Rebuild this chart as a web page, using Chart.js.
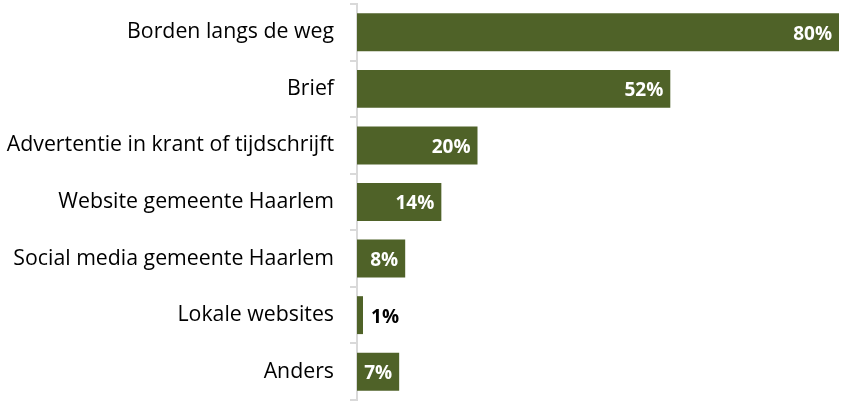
<!DOCTYPE html>
<html lang="nl">
<head>
    <meta charset="UTF-8">
    <title>Bekendheid</title>
    <script src="https://cdn.jsdelivr.net/npm/chart.js"></script>
    <style>
        html, body { margin: 0; padding: 0; background: #fff; }
        #wrap { width: 843px; height: 403px; }
    </style>
</head>
<body>
    <div id="wrap"><canvas id="barChart"></canvas></div>
    <script>
        const categories = [
            'Borden langs de weg',
            'Brief',
            'Advertentie in krant of tijdschrijft',
            'Website gemeente Haarlem',
            'Social media gemeente Haarlem',
            'Lokale websites',
            'Anders'
        ];
        const percentages = [80, 52, 20, 14, 8, 1, 7];

        const barColor = '#4F6228';
        const fontFamily = '"Open Sans", Lato, sans-serif';

        // draw value labels: inside the bar end in white, or just outside in black when the bar is too short
        const valueLabels = {
            id: 'valueLabels',
            afterDatasetsDraw(chart) {
                const ctx = chart.ctx;
                const meta = chart.getDatasetMeta(0);
                ctx.save();
                ctx.font = 'bold 19px ' + fontFamily;
                ctx.textBaseline = 'middle';
                meta.data.forEach((bar, i) => {
                    const text = percentages[i] + '%';
                    const w = ctx.measureText(text).width;
                    const barWidth = bar.x - bar.base;
                    if (barWidth > w + 10) {
                        ctx.fillStyle = '#ffffff';
                        ctx.textAlign = 'right';
                        ctx.fillText(text, bar.x - 7, bar.y + 2);
                    } else {
                        ctx.fillStyle = '#000000';
                        ctx.textAlign = 'left';
                        ctx.fillText(text, bar.x + 8, bar.y + 2);
                    }
                });
                ctx.restore();
            }
        };

        const ctx = document.getElementById('barChart').getContext('2d');
        const barChart = new Chart(ctx, {
            type: 'bar',
            data: {
                labels: categories,
                datasets: [{
                    data: percentages,
                    backgroundColor: barColor,
                    borderWidth: 0,
                    categoryPercentage: 0.67,
                    barPercentage: 1.0
                }]
            },
            options: {
                indexAxis: 'y',
                responsive: true,
                maintainAspectRatio: false,
                animation: false,
                layout: {
                    padding: { top: 4, bottom: 3, right: 4, left: 0 }
                },
                scales: {
                    x: {
                        display: false,
                        min: 0,
                        max: 80
                    },
                    y: {
                        afterFit(scale) {
                            // labels sit inside their bands, no extra room needed above/below
                            scale.paddingTop = 0;
                            scale.paddingBottom = 0;
                            scale.width = 357;
                        },
                        grid: {
                            offset: true,
                            drawOnChartArea: false,
                            color: '#d9d9d9',
                            lineWidth: 2,
                            tickLength: 7
                        },
                        border: {
                            display: true,
                            color: '#d9d9d9',
                            width: 2
                        },
                        ticks: {
                            color: '#000',
                            padding: 16,
                            font: {
                                family: fontFamily,
                                size: 21.3
                            }
                        }
                    }
                },
                plugins: {
                    legend: { display: false },
                    tooltip: { enabled: false }
                }
            },
            plugins: [valueLabels]
        });
    </script>
</body>
</html>
